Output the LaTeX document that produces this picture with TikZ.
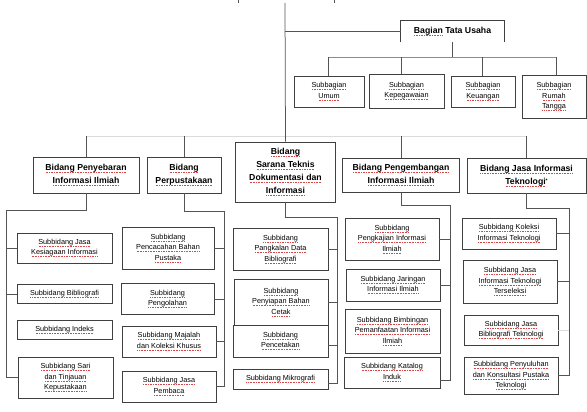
\documentclass[tikz,border=0pt]{standalone}
\usepackage{fontspec}
\setmainfont{Liberation Sans}
\newcommand\subfont{\fontsize{7.3}{10.5}\selectfont}
\newcommand\headfont{\fontsize{8.7}{13}\selectfont\bfseries}
\definecolor{boxc}{gray}{0.25}
\definecolor{linec}{gray}{0.33}
\definecolor{busc}{gray}{0.86}
\definecolor{barc}{gray}{0.55}
\definecolor{squigc}{RGB}{215,70,70}
\newsavebox\sqbox
\newcommand\sq[1]{\sbox\sqbox{#1}\leavevmode\rlap{\color{squigc}\hbox to \wd\sqbox{\xleaders\hbox{\kern0.35pt\rule[-2.1pt]{0.9pt}{0.55pt}\kern0.35pt}\hfill}}\usebox\sqbox}
\begin{document}
\begin{tikzpicture}[x=1pt,y=-1pt,
  box/.style={draw=boxc, line width=0.75pt, inner sep=0pt, align=center, font=\subfont, fill=white},
  head/.style={box, font=\headfont},
  conn/.style={draw=linec, line width=0.75pt},
  bus/.style={draw=busc, line width=0.75pt},
  barline/.style={draw=barc, line width=0.75pt},
  faint/.style={draw=busc, line width=0.75pt}]
\useasboundingbox (0,0) rectangle (587,412);

% ---------- top part ----------
\coordinate (top) at (285,3);
\coordinate (tk1) at (238,0);
\coordinate (tk2) at (334,0);
\draw[conn] (tk1) -- ++(0,3);
\draw[conn] (tk2) -- ++(0,3);

\node[head, draw=none, fill=none, minimum width=103pt, minimum height=21pt] (bag) at (452.5,31.5) {\sq{Bagian} Tata Usaha};
\draw[boxc, line width=0.75pt] (bag.south west) -- (bag.north west) -- (bag.north east) -- (bag.south east);

\node[box, minimum width=70pt, minimum height=31pt] (umum) at (329,91.5) {\sq{Subbagian}\\\sq{Umum}};
\node[box, minimum width=75pt, minimum height=34pt] (kep) at (406.5,91) {\sq{Subbagian}\\\sq{Kepegawaian}};
\node[box, minimum width=64pt, minimum height=31pt] (keu) at (483,91.5) {\sq{Subbagian}\\\sq{Keuangan}};
\node[box, minimum width=64pt, minimum height=43pt] (rt) at (554,96.5) {\sq{Subbagian}\\\sq{Rumah}\\\sq{Tangga}};

\coordinate (barL) at (328,57);
\coordinate (barR) at (556,57);
\coordinate (k2) at (401,57);
\coordinate (k3) at (482,57);
\draw[conn] (top |- bag.west) -- (bag.west);
\draw[conn] (bag.south) -- (bag.south |- barL);
\draw[barline] (barL) -- (barR);
\draw[conn] (barL) -- (barL |- umum.north);
\draw[conn] (k2) -- (k2 |- kep.north);
\draw[conn] (k3) -- (k3 |- keu.north);
\draw[conn] (barR) -- (barR |- rt.north);

% ---------- bidang ----------
\node[head, minimum width=106pt, minimum height=36pt] (peny) at (86,175) {\sq{Bidang Penyebaran}\\\sq{Informasi Ilmiah}};
\node[head, minimum width=74pt, minimum height=36pt] (perp) at (184,175) {\sq{Bidang}\\\sq{Perpustakaan}};
\node[head, minimum width=100pt, minimum height=60pt] (sar) at (285.5,172) {\sq{Bidang}\\\sq{Sarana Teknis}\\\sq{Dokumentasi dan}\\\sq{Informasi}};
\node[head, minimum width=117pt, minimum height=34pt] (peng) at (401,175) {\sq{Bidang Pengembangan}\\\sq{Informasi Ilmiah}};
\node[head, minimum width=119pt, minimum height=35pt] (jasa) at (526.5,175.5) {\sq{Bidang Jasa Informasi}\\\sq{Teknologi}\raisebox{2pt}{\fontsize{5}{5}\selectfont*}};

\coordinate (busL) at (86,136);
\coordinate (busR) at (526.5,136);
\draw[bus] (busL) -- (busR);
\draw[conn] (top) -- (sar.north);
\draw[conn] (busL) -- (peny.north);
\draw[conn] (perp.north |- busL) -- (perp.north);
\draw[conn] (peng.north |- busL) -- (peng.north);
\draw[conn] (busR) -- (jasa.north);

% ---------- column 1 ----------
\node[box, minimum width=95pt, minimum height=30pt] (kes) at (64.5,248) {\sq{Subbidang Jasa}\\\sq{Kesiagaan Informasi}};
\node[box, minimum width=95pt, minimum height=19pt] (bib) at (64.5,294) {\sq{Subbidang Bibliografi}};
\node[box, minimum width=95pt, minimum height=19pt] (idx) at (64.5,329.5) {\sq{Subbidang Indeks}};
\node[box, minimum width=95pt, minimum height=41pt] (sari) at (65.5,377.5) {\sq{Subbidang Sari}\\\sq{dan Tinjauan}\\\sq{Kepustakaan}};
\coordinate (s1) at (6,210);
\draw[conn] (peny.south) |- (s1) -- (s1 |- sari.west) -- (sari.west);
\draw[conn] (s1 |- kes.west) -- (kes.west);
\draw[conn] (s1 |- bib.west) -- (bib.west);

% ---------- column 2 ----------
\node[box, minimum width=92pt, minimum height=42pt] (pcc) at (168,248) {\sq{Subbidang}\\\sq{Pencacahan Bahan}\\\sq{Pustaka}};
\node[box, minimum width=93pt, minimum height=31pt] (pgl) at (167.5,299) {\sq{Subbidang}\\\sq{Pengolahan}};
\node[box, minimum width=94pt, minimum height=31pt] (maj) at (169,341.5) {\sq{Subbidang Majalah}\\\sq{dan Koleksi Khusus}};
\node[box, minimum width=94pt, minimum height=31pt] (pmb) at (169,386.5) {\sq{Subbidang Jasa}\\\sq{Pembaca}};
\coordinate (s2) at (224,211);
\draw[conn] (perp.south) |- (s2) -- (s2 |- pmb.east) -- (pmb.east);
\draw[conn] (s2 |- pcc.east) -- (pcc.east);
\draw[conn] (s2 |- pgl.east) -- (pgl.east);
\draw[conn] (s2 |- maj.east) -- (maj.east);

% ---------- column 3 ----------
\node[box, minimum width=95pt, minimum height=42pt] (pkl) at (280.5,249) {\sq{Subbidang}\\\sq{Pangkalan Data}\\\sq{Bibliografi}};
\node[box, minimum width=94pt, minimum height=46pt] (pny) at (281,302) {\sq{Subbidang}\\\sq{Penyiapan Bahan}\\\sq{Cetak}};
\node[box, minimum width=95pt, minimum height=32pt] (pct) at (280.5,341) {\sq{Subbidang}\\\sq{Pencetakan}};
\node[box, minimum width=95pt, minimum height=20pt] (mik) at (280.5,379) {\sq{Subbidang Mikrografi}};
\coordinate (s3) at (337,217);
\coordinate (e3) at (337,383);
\draw[conn] (sar.south) |- (s3) -- (e3) -- (e3 -| mik.east);
\draw[conn] (s3 |- pkl.east) -- (pkl.east);
\draw[conn] (s3 |- pny.east) -- (pny.east);
\draw[conn] ([yshift=-4pt]s3 |- pct.east) -- ([yshift=-4pt]pct.east);

% ---------- column 4 ----------
\node[box, minimum width=94pt, minimum height=42pt] (pkj) at (392,239) {\sq{Subbidang}\\\sq{Pengkajian Informasi}\\\sq{Ilmiah}};
\node[box, minimum width=94pt, minimum height=32pt] (jar) at (393,285) {\sq{Subbidang Jaringan}\\\sq{Informasi Ilmiah}};
\node[box, minimum width=95pt, minimum height=44pt] (bim) at (392.5,331) {\sq{Subbidang Bimbingan}\\\sq{Pemanfaatan Informasi}\\\sq{Ilmiah}};
\node[box, minimum width=96pt, minimum height=31pt] (kat) at (392,372.5) {\sq{Subbidang Katalog}\\\sq{Induk}};
\coordinate (s4) at (450,205);
\coordinate (e4) at (450,380);
\draw[conn] (peng.south) |- (s4) -- (e4) -- (e4 -| kat.east);
\draw[conn] (s4 |- pkj.east) -- (pkj.east);
\draw[conn] (s4 |- jar.east) -- (jar.east);

% ---------- column 5 ----------
\node[box, minimum width=94pt, minimum height=31pt] (kol) at (509,233.5) {\sq{Subbidang Koleksi}\\\sq{Informasi Teknologi}};
\node[box, minimum width=94pt, minimum height=43pt] (ter) at (510,281.5) {\sq{Subbidang Jasa}\\\sq{Informasi Teknologi}\\\sq{Terseleksi}};
\node[box, minimum width=94pt, minimum height=30pt] (bt) at (511,330) {\sq{Subbidang Jasa}\\\sq{Bibliografi Teknologi}};
\node[box, minimum width=94pt, minimum height=37pt] (pyl) at (511,375.5) {\sq{Subbidang Penyuluhan}\\\sq{dan Konsultasi Pustaka}\\\sq{Teknologi}};
\coordinate (s5) at (569,208);
\draw[conn] (jasa.south) |- (s5) -- (s5 |- pyl.east) -- (pyl.east);
\draw[conn] (s5 |- kol.east) -- (kol.east);
\draw[conn] (s5 |- ter.east) -- (ter.east);
\draw[faint] (s5 |- bt.east) -- (bt.east);
\end{tikzpicture}
\end{document}
